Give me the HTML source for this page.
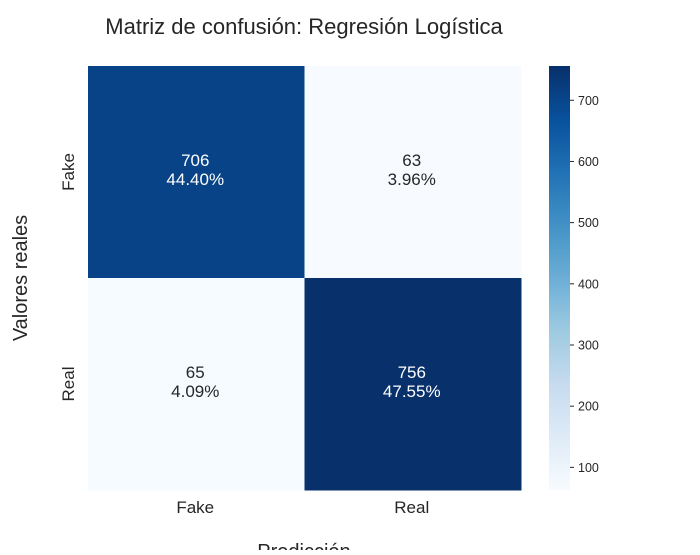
<!DOCTYPE html>
<html><head><meta charset="utf-8"><style>
body{margin:0;background:#fff;}
svg text{font-family:"Liberation Sans",Arial,sans-serif;fill:#262626;}
</style></head><body>
<svg id="chart" width="700" height="550">
<defs>
<linearGradient id="cbgrad" x1="0" y1="1" x2="0" y2="0">
<stop offset="0" stop-color="#f7fbff"/><stop offset="0.125" stop-color="#deebf7"/><stop offset="0.25" stop-color="#c6dbef"/><stop offset="0.375" stop-color="#9ecae1"/><stop offset="0.5" stop-color="#6baed6"/><stop offset="0.625" stop-color="#4292c6"/><stop offset="0.75" stop-color="#2171b5"/><stop offset="0.875" stop-color="#08519c"/><stop offset="1" stop-color="#08306b"/>
</linearGradient>
</defs>
<text x="304" y="34" font-size="22" text-anchor="middle">Matriz de confusión: Regresión Logística</text>
<g id="cells"></g>
<rect x="549" y="66" width="21" height="424" fill="url(#cbgrad)"/>
<g id="cbticks"></g>
<text transform="translate(27,278) rotate(-90)" font-size="20" text-anchor="middle">Valores reales</text>
<text x="304" y="558" font-size="20" text-anchor="middle">Predicción</text>
</svg>
<script>
const labels=["Fake","Real"];
const counts=[[706,63],[65,756]];
const cbTicks=[100,200,300,400,500,600,700];
const NS="http://www.w3.org/2000/svg";
const svg=document.getElementById('chart');
const X0=88,Y0=66,W=433,H=424;
const total=counts.flat().reduce((a,b)=>a+b,0);
const vmin=Math.min(...counts.flat()),vmax=Math.max(...counts.flat());
const stops=["#f7fbff","#deebf7","#c6dbef","#9ecae1","#6baed6","#4292c6","#2171b5","#08519c","#08306b"].map(h=>[1,3,5].map(i=>parseInt(h.substr(i,2),16)));
function color(v){let t=(v-vmin)/(vmax-vmin)*8;let i=Math.min(7,Math.floor(t));let f=t-i;const c=stops[i].map((a,k)=>Math.round(a+(stops[i+1][k]-a)*f));return {css:`rgb(${c})`,lum:t};}
function mk(tag,attrs,parent){const e=document.createElementNS(NS,tag);for(const k in attrs)e.setAttribute(k,attrs[k]);(parent||svg).appendChild(e);return e;}
const cw=W/labels.length,ch=H/labels.length;
const g=document.getElementById('cells');
counts.forEach((row,r)=>row.forEach((v,c)=>{
 const col=color(v);
 const rect=mk('rect',{x:X0+c*cw,y:Y0+r*ch,width:cw+0.5,height:ch+0.5,fill:col.css},g);
 
 
 const tc=col.lum>4?'#ffffff':'#262626';
 const t=mk('text',{x:X0+(c+0.5)*cw-1,y:Y0+(r+0.5)*ch-6,'font-size':17,'text-anchor':'middle',style:'fill:'+tc},g);
 t.textContent=v;
 
 
 const p=mk('text',{x:X0+(c+0.5)*cw-1,y:Y0+(r+0.5)*ch+13,'font-size':17,'text-anchor':'middle',style:'fill:'+tc},g);
 p.textContent=(v/total*100).toFixed(2)+'%';
 
 
}));
labels.forEach((l,i)=>{
 const t=mk('text',{x:X0+(i+0.5)*cw-1,y:513,'font-size':17,'text-anchor':'middle'});
 t.textContent=l;
 
 
 const y=Y0+(i+0.5)*ch;
 const u=mk('text',{transform:`translate(74,${y}) rotate(-90)`,'font-size':17,'text-anchor':'middle'});
 u.textContent=l;
 
 
});
const cb=document.getElementById('cbticks');
cbTicks.forEach(v=>{
 const y=490-(v-vmin)/(vmax-vmin)*424;
 const ln=mk('line',{x1:570,x2:574,y1:y,y2:y,stroke:'#262626','stroke-width':1},cb);
 
 
 const t=mk('text',{x:578,y:y+4.5,'font-size':12.5},cb);
 t.textContent=v;
 
 
});
</script>
</body></html>
